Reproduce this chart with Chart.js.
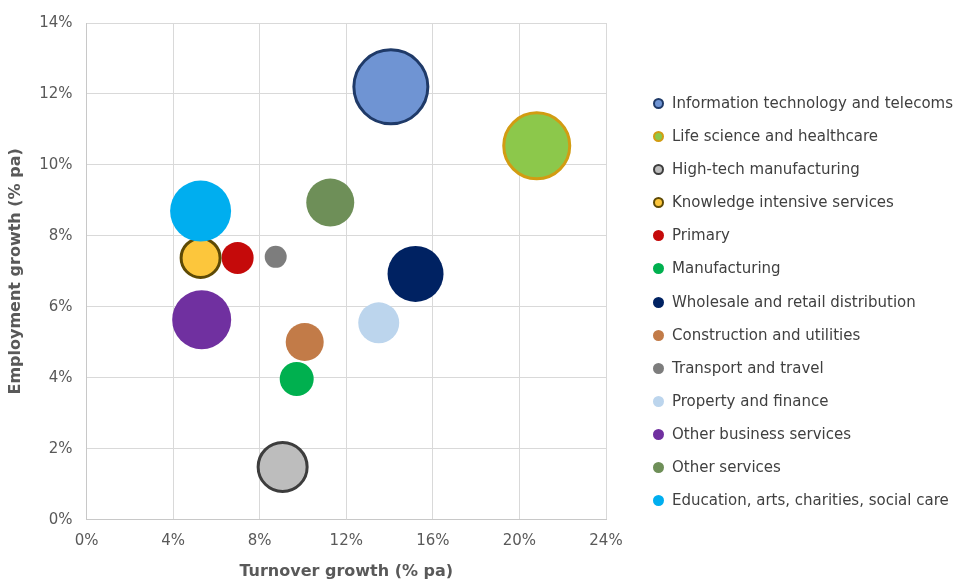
<!DOCTYPE html>
<html>
<head>
<meta charset="utf-8">
<title>Sector growth</title>
<script src="https://cdn.jsdelivr.net/npm/chart.js@4"></script>
<style>
  body { margin: 0; background: #fff; }
  #wrap { width: 963px; height: 581px; position: relative; }
  #legend {
    position: absolute; left: 653px; top: 93px;
    margin: 0; padding: 0; list-style: none;
    font-family: "DejaVu Sans", sans-serif; font-size: 15px; color: #404040;
  }
  #legend li { height: 33.1px; line-height: 20px; white-space: nowrap; }
  #legend .dot {
    display: inline-block; box-sizing: border-box;
    width: 11px; height: 11px; border-radius: 50%;
    margin-right: 8px; vertical-align: -1px;
  }
</style>
</head>
<body>
<div id="wrap">
  <canvas id="sectorChart"></canvas>
  <ul id="legend"></ul>
</div>
<script>
// Sector growth: turnover vs employment, bubble size = sector size
const sectors = [
  "Information technology and telecoms",
  "Life science and healthcare",
  "High-tech manufacturing",
  "Knowledge intensive services",
  "Primary",
  "Manufacturing",
  "Wholesale and retail distribution",
  "Construction and utilities",
  "Transport and travel",
  "Property and finance",
  "Other business services",
  "Other services",
  "Education, arts, charities, social care"
];
const turnoverGrowth   = [14.06, 20.8, 9.06, 5.27, 6.98, 9.71, 15.2, 10.08, 8.74, 13.5, 5.32, 11.26, 5.27];
const employmentGrowth = [12.2, 10.54, 1.49, 7.38, 7.38, 3.97, 6.93, 5.01, 7.41, 5.55, 5.64, 8.94, 8.70];
const bubbleRadius     = [37, 33, 24.5, 19.5, 16, 17, 28, 19, 11, 20.5, 29.5, 24, 30.5];

const xTicks = [0, 4, 8, 12, 16, 20, 24];
const yTicks = [0, 2, 4, 6, 8, 10, 12, 14];

const fillColors = ["#6f94d3", "#8cc84b", "#bdbdbd", "#fcc63c", "#c50a0a", "#00b04f", "#002262",
                    "#c27b48", "#7d7d7d", "#bcd5ed", "#7030a0", "#6e8f58", "#00aeef"];
const edgeColors = ["#1f3a68", "#d29c12", "#3d3d3d", "#5e4a05", "#c50a0a", "#00b04f", "#002262",
                    "#c27b48", "#7d7d7d", "#bcd5ed", "#7030a0", "#6e8f58", "#00aeef"];
const edgeWidths = [3, 3, 3, 3, 0, 0, 0, 0, 0, 0, 0, 0, 0];

const datasets = sectors.map((name, i) => ({
  label: name,
  data: [{ x: turnoverGrowth[i], y: employmentGrowth[i], r: bubbleRadius[i] }],
  backgroundColor: fillColors[i],
  borderColor: edgeColors[i],
  borderWidth: edgeWidths[i],
  hoverRadius: 0,
  // education bubble sits on top of the knowledge one
  order: i === sectors.length - 1 ? -1 : 0
}));

// legend list on the right
const legendEl = document.getElementById("legend");
sectors.forEach((name, i) => {
  const li = document.createElement("li");
  const dot = document.createElement("span");
  dot.className = "dot";
  dot.style.background = fillColors[i];
  if (edgeWidths[i]) dot.style.border = "2.5px solid " + edgeColors[i];
  li.appendChild(dot);
  li.appendChild(document.createTextNode(name));
  legendEl.appendChild(li);
});

const tickFont = { family: "'DejaVu Sans', sans-serif", size: 15 };
const titleFont = { family: "'DejaVu Sans', sans-serif", size: 16, weight: "bold" };

new Chart(document.getElementById("sectorChart"), {
  type: "bubble",
  data: { datasets },
  options: {
    responsive: true,
    maintainAspectRatio: false,
    animation: false,
    layout: { autoPadding: false, padding: { left: 6, top: 12, right: 357, bottom: 0 } },
    plugins: {
      legend: { display: false },
      tooltip: { enabled: false }
    },
    scales: {
      x: {
        type: "linear",
        min: 0,
        max: 24,
        afterBuildTicks: (axis) => { axis.ticks = xTicks.map(v => ({ value: v })); },
        ticks: {
          color: "#595959",
          font: tickFont,
          padding: 12,
          maxRotation: 0,
          callback: (v) => v + "%"
        },
        grid: { color: "#d9d9d9", drawTicks: false },
        border: { color: "#c8c8c8" },
        title: {
          display: true,
          text: "Turnover growth (% pa)",
          color: "#595959",
          font: titleFont,
          padding: { top: 0, bottom: 0 }
        }
      },
      y: {
        type: "linear",
        min: 0,
        max: 14,
        afterBuildTicks: (axis) => { axis.ticks = yTicks.map(v => ({ value: v })); },
        ticks: {
          color: "#595959",
          font: tickFont,
          padding: 14,
          callback: (v) => v + "%"
        },
        grid: { color: "#d9d9d9", drawTicks: false },
        border: { color: "#c8c8c8" },
        title: {
          display: true,
          text: "Employment growth (% pa)",
          color: "#595959",
          font: titleFont,
          padding: { top: 0, bottom: 0 }
        }
      }
    }
  }
});
</script>
</body>
</html>
